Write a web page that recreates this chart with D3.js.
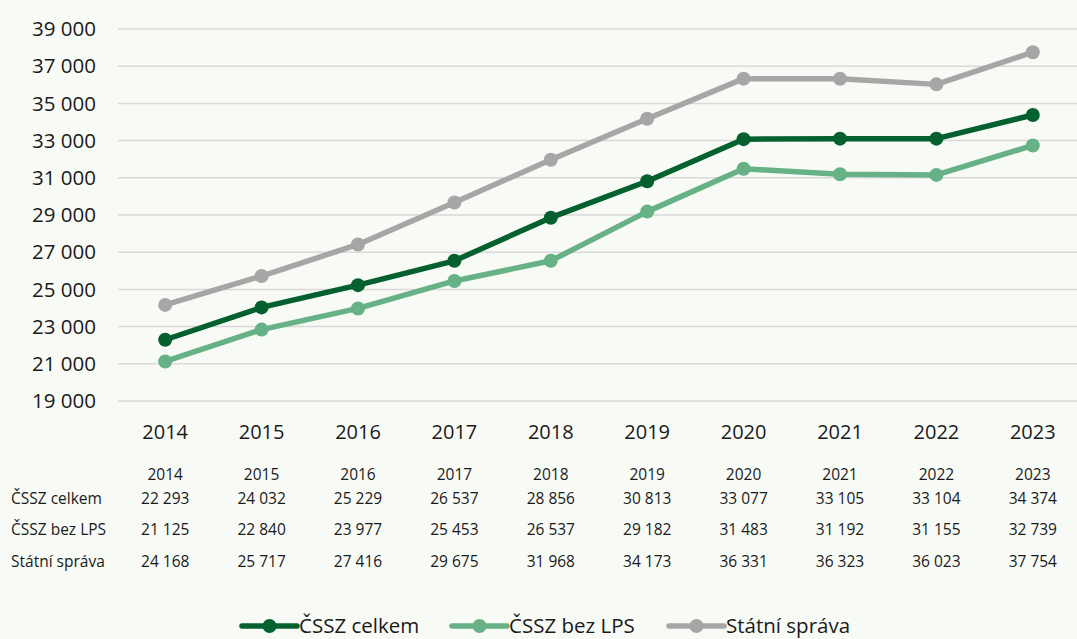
<!DOCTYPE html>
<html><head><meta charset="utf-8">
<script src="https://cdn.jsdelivr.net/npm/d3@7"></script>
<style>body{margin:0;background:#f8faf6;} svg{display:block;font-family:"Open Sans",sans-serif;}</style>
</head><body><svg id="c" width="1077" height="639"></svg>
<script>
const years = ["2014","2015","2016","2017","2018","2019","2020","2021","2022","2023"];
const seriesNames = ["ČSSZ celkem","ČSSZ bez LPS","Státní správa"];
const cssz = [22293,24032,25229,26537,28856,30813,33077,33105,33104,34374];
const csszBezLps = [21125,22840,23977,25453,26537,29182,31483,31192,31155,32739];
const statni = [24168,25717,27416,29675,31968,34173,36331,36323,36023,37754];
const yTicks = [19000,21000,23000,25000,27000,29000,31000,33000,35000,37000,39000];
const colors = ["#04612f","#66b185","#a6a6a6"];
const series = [cssz, csszBezLps, statni];

const svg = d3.select("#c");
svg.append("rect").attr("width",1077).attr("height",639).attr("fill","#f8faf6");
const x = d3.scaleBand().domain(years).range([117,1081]);
const y = d3.scaleLinear().domain([19000,39000]).range([401,29]);
const fmt = v => d3.format(",")(v).replace(/,/g," ");

const g = svg.append("g");
g.selectAll("line.grid").data(yTicks).join("line")
  .attr("x1",118).attr("x2",1077).attr("y1",d=>y(d)).attr("y2",d=>y(d))
  .attr("stroke","#d9d9d9").attr("stroke-width",1.5);
g.selectAll("text.yt").data(yTicks).join("text")
  .attr("x",96).attr("y",d=>y(d)).attr("dy","0.35em").attr("text-anchor","end")
  .attr("font-size",20.5).attr("fill","#1a1a1a").text(fmt);
g.selectAll("text.xt").data(years).join("text")
  .attr("x",d=>x(d)+x.bandwidth()/2).attr("y",432).attr("dy","0.35em").attr("text-anchor","middle")
  .attr("font-size",20).attr("fill","#1a1a1a").text(d=>d);

const line = d3.line().x((d,i)=>x(years[i])+x.bandwidth()/2).y(d=>y(d));
series.forEach((s,k)=>{
  const sg = svg.append("g");
  sg.append("path").attr("d",line(s)).attr("fill","none").attr("stroke",colors[k]).attr("stroke-width",5.5).attr("stroke-linejoin","round");
  sg.selectAll("circle").data(s).join("circle")
    .attr("cx",(d,i)=>x(years[i])+x.bandwidth()/2).attr("cy",d=>y(d)).attr("r",7).attr("fill",colors[k]);
});

// table
const tg = svg.append("g").attr("font-size",15.5).attr("fill","#1a1a1a");
tg.selectAll("text.hy").data(years).join("text")
  .attr("x",d=>x(d)+x.bandwidth()/2).attr("y",475).attr("dy","0.35em").attr("text-anchor","middle").text(d=>d);
const rowY = [499,530,562];
series.forEach((s,k)=>{
  tg.append("text").attr("x",11).attr("y",rowY[k]).attr("dy","0.35em").text(seriesNames[k]);
  tg.selectAll(null).data(s).join("text")
    .attr("x",(d,i)=>x(years[i])+x.bandwidth()/2).attr("y",rowY[k]).attr("dy","0.35em").attr("text-anchor","middle").text(fmt);
});

// legend
const legX = [242,452,669];
seriesNames.forEach((n,k)=>{
  const lg = svg.append("g").attr("transform",`translate(${legX[k]},626)`);
  lg.append("line").attr("x1",0).attr("x2",55).attr("stroke",colors[k]).attr("stroke-width",5.5).attr("stroke-linecap","round");
  lg.append("circle").attr("cx",27.5).attr("r",7).attr("fill",colors[k]);
  lg.append("text").attr("x",57).attr("dy","0.35em").attr("font-size",20.5).attr("fill","#1a1a1a").text(n);
});
</script></body></html>
